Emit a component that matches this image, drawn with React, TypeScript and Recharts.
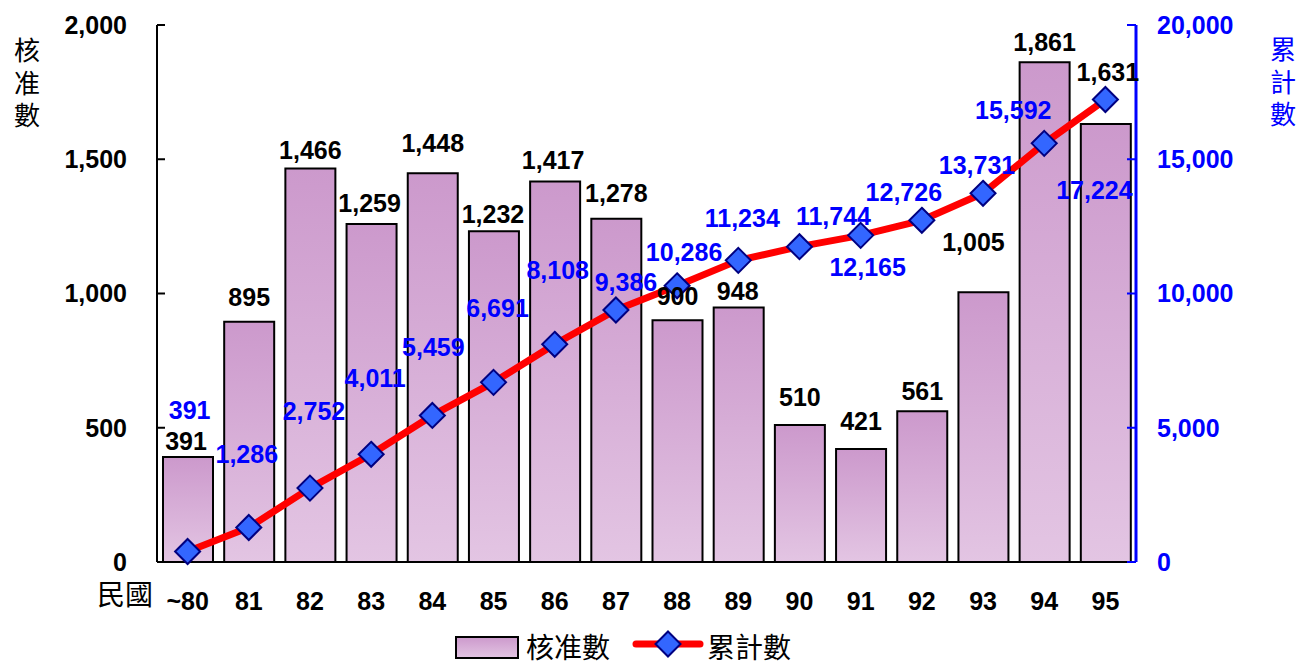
import React from 'react';
import { ComposedChart, Bar, Line, XAxis, YAxis, Legend, LabelList } from 'recharts';

const categories = ['~80', '81', '82', '83', '84', '85', '86', '87', '88', '89', '90', '91', '92', '93', '94', '95'];
const approvals = [391, 895, 1466, 1259, 1448, 1232, 1417, 1278, 900, 948, 510, 421, 561, 1005, 1861, 1631];
const cumulative = [391, 1286, 2752, 4011, 5459, 6691, 8108, 9386, 10286, 11234, 11744, 12165, 12726, 13731, 15592, 17224];
const leftTicks = [0, 500, 1000, 1500, 2000];
const rightTicks = [0, 5000, 10000, 15000, 20000];

const data = categories.map((c, i) => ({ cat: c, approved: approvals[i], total: cumulative[i] }));

// label placement tweaks (pixels) to mimic the reference layout
const BAR_LABEL_GAP = [16, 25, 18, 21, 30, 17, 22, 26, 24, 16, 28, 28, 20, 50, 20, 52];
const BAR_LABEL_DX = [-2, 0, 0, -2, 0, -1, -2, 0, 0, -1, 0, 0, 0, -10, 0, 2];
const LINE_LABEL_OFFSETS: [number, number][] = [
  [2, -142], [-2, -73], [4, -77], [4, -76], [1, -68], [4, -74], [3, -74], [10, -28],
  [7, -34], [4, -42], [34, -31], [7, 32], [-18, -28], [-6, -28], [-31, -33], [-11, 90],
];

const FONT = "'Liberation Sans', Arial, 'Noto Sans CJK TC', sans-serif";
const CJK = "'Noto Sans CJK TC', 'Noto Sans CJK SC', sans-serif";
const BLUE = '#0000ff';
const fmt = (v: number) => v.toLocaleString('en-US');

const Diamond = (props: any) => {
  const { cx, cy } = props;
  if (cx == null || cy == null) return null;
  const s = 12.5;
  return (
    <polygon
      points={`${cx},${cy - s} ${cx + s},${cy} ${cx},${cy + s} ${cx - s},${cy}`}
      fill="#3366ff"
      stroke="#000080"
      strokeWidth={2}
    />
  );
};

const BarLabel = (props: any) => {
  const { x, y, width, value, index } = props;
  return (
    <text
      x={x + width / 2 + BAR_LABEL_DX[index]}
      y={y - BAR_LABEL_GAP[index]}
      textAnchor="middle"
      dominantBaseline="central"
      fontFamily={FONT}
      fontWeight={700}
      fontSize={25}
      fill="#000"
    >
      {fmt(value)}
    </text>
  );
};

const LineLabel = (props: any) => {
  const { x, y, value, index } = props;
  const [dx, dy] = LINE_LABEL_OFFSETS[index];
  return (
    <text
      x={x + dx}
      y={y + dy}
      textAnchor="middle"
      dominantBaseline="central"
      fontFamily={FONT}
      fontWeight={700}
      fontSize={25}
      fill={BLUE}
    >
      {fmt(value)}
    </text>
  );
};

const LegendContent = () => (
  <svg width={1299} height={40} style={{ display: 'block', overflow: 'visible' }}>
    <defs>
      <linearGradient id="legGrad" x1="0" y1="0" x2="0" y2="1">
        <stop offset="0%" stopColor="#cc99cc" />
        <stop offset="100%" stopColor="#e3c5e3" />
      </linearGradient>
    </defs>
    <rect x={456} y={15} width={62} height={21} fill="url(#legGrad)" stroke="#000" strokeWidth={2} />
    <text x={526} y={24} dominantBaseline="central" fontFamily={CJK} fontSize={28} fill="#000">核准數</text>
    <line x1={636} y1={22} x2={700} y2={22} stroke="#ff0000" strokeWidth={7} strokeLinecap="round" />
    <polygon points="668,9.5 680.5,22 668,34.5 655.5,22" fill="#3366ff" stroke="#000080" strokeWidth={2} />
    <text x={707} y={24} dominantBaseline="central" fontFamily={CJK} fontSize={28} fill="#000">累計數</text>
  </svg>
);

const VerticalLabel = ({ x, y, chars, color }: { x: number; y: number; chars: string[]; color: string }) => (
  <text x={x} y={y} textAnchor="middle" dominantBaseline="central" fontFamily={CJK} fontSize={26} fill={color}>
    {chars.map((ch, i) => (
      <tspan key={i} x={x} dy={i === 0 ? 0 : 32.5}>
        {ch}
      </tspan>
    ))}
  </text>
);

export default function App() {
  return (
    <div style={{ position: 'absolute', left: 0, top: 0, width: 1299, height: 662, background: '#fff' }}>
      <ComposedChart
        width={1299}
        height={662}
        data={data}
        margin={{ top: 25, right: 63, bottom: 60, left: 57 }}
        style={{ fontFamily: FONT }}
      >
        <defs>
          <linearGradient id="barGrad" x1="0" y1="0" x2="0" y2="1">
            <stop offset="0%" stopColor="#cc99cc" />
            <stop offset="100%" stopColor="#e3c5e3" />
          </linearGradient>
        </defs>
        <XAxis
          dataKey="cat"
          tickLine={false}
          tickSize={0}
          tickMargin={30}
          axisLine={{ stroke: '#000', strokeWidth: 2 }}
          tick={{ fill: '#000', fontSize: 25, fontWeight: 700, fontFamily: FONT }}
          interval={0}
          height={40}
        />
        <YAxis
          yAxisId="left"
          orientation="left"
          width={100}
          domain={[0, 2000]}
          ticks={leftTicks}
          interval={0}
          tickFormatter={fmt}
          tickSize={-8}
          tickMargin={38}
          tickLine={{ stroke: '#000', strokeWidth: 2 }}
          axisLine={{ stroke: '#000', strokeWidth: 2 }}
          tick={{ fill: '#000', fontSize: 25, fontWeight: 700, fontFamily: FONT }}
        />
        <YAxis
          yAxisId="right"
          orientation="right"
          width={100}
          domain={[0, 20000]}
          ticks={rightTicks}
          interval={0}
          tickFormatter={fmt}
          tickSize={-9}
          tickMargin={30}
          tickLine={{ stroke: BLUE, strokeWidth: 2 }}
          axisLine={{ stroke: BLUE, strokeWidth: 3 }}
          tick={{ fill: BLUE, fontSize: 25, fontWeight: 700, fontFamily: FONT }}
        />
        <Bar
          yAxisId="left"
          dataKey="approved"
          name="核准數"
          barSize={50}
          fill="url(#barGrad)"
          stroke="#000"
          strokeWidth={2}
          isAnimationActive={false}
        >
          <LabelList dataKey="approved" content={BarLabel} />
        </Bar>
        <Line
          yAxisId="right"
          type="linear"
          dataKey="total"
          name="累計數"
          stroke="#ff0000"
          strokeWidth={7}
          strokeLinejoin="round"
          dot={<Diamond />}
          activeDot={false}
          isAnimationActive={false}
        >
          <LabelList dataKey="total" content={LineLabel} />
        </Line>
        <Legend
          layout="horizontal"
          verticalAlign="middle"
          align="center"
          content={LegendContent}
          wrapperStyle={{ position: 'absolute', left: 0, top: 622, width: 1299, height: 40 }}
        />
        <VerticalLabel x={27} y={48} chars={['核', '准', '數']} color="#000" />
        <VerticalLabel x={1283} y={47} chars={['累', '計', '數']} color={BLUE} />
        <text x={125} y={593} textAnchor="middle" dominantBaseline="central" fontFamily={CJK} fontSize={28} fill="#000">民國</text>
      </ComposedChart>
    </div>
  );
}
